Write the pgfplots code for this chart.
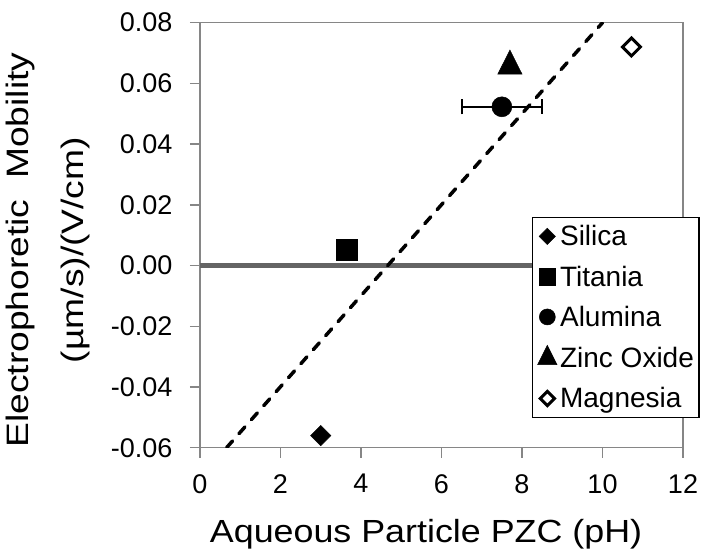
\documentclass[border=0pt]{standalone}
\usepackage{pgfplots}
\pgfplotsset{compat=1.18}
\usepackage{fontspec}
\setmainfont{Liberation Sans}
\usepackage{graphicx}
\usetikzlibrary{calc}
\definecolor{axgray}{RGB}{134,134,134}
\definecolor{zerogray}{RGB}{100,100,100}
\begin{document}
\begin{tikzpicture}
\begin{axis}[
  name=ax,
  scale only axis,
  width=483pt, height=425pt,
  xmin=0, xmax=12, ymin=-0.06, ymax=0.08,
  xtick={0,2,4,6,8,10,12},
  ytick={-0.06,-0.04,-0.02,0,0.02,0.04,0.06,0.08},
  scaled y ticks=false,
  tick align=outside,
  xtick pos=left, ytick pos=left,
  major tick length=10pt,
  axis line style={axgray, line width=1.5pt},
  tick style={axgray, line width=1.5pt},
  /pgf/number format/assume math mode=true,
  ticklabel style={font=\fontsize{27}{32}\selectfont},
  yticklabel style={/pgf/number format/fixed, /pgf/number format/fixed zerofill, /pgf/number format/precision=2, xshift=-14pt},
  xticklabel style={yshift=-13pt},
  xlabel={\scalebox{1.12}[1]{Aqueous Particle PZC (pH)}},
  xlabel style={font=\fontsize{32}{38}\selectfont, at={(axis description cs:0.468,-0.224)}, anchor=base},
  ylabel={\scalebox{1.2}[1]{Electrophoretic\ \ Mobility}\\\scalebox{1.2}[1]{(µm/s)/(V/cm)}},
  ylabel style={font=\fontsize{31}{55}\selectfont, align=center, at={(axis description cs:-0.315,0.465)}, anchor=center},
  legend style={at={(axis description cs:0.687,0.5435)}, anchor=north west,
    draw=black, line width=1.5pt, fill=white,
    font=\fontsize{28}{33}\selectfont,
    inner xsep=4pt, inner ysep=7pt, row sep=16.5pt,
    nodes={inner sep=1pt}},
  legend cell align=left,
  legend image code/.code={\draw[#1, every mark/.append style={scale=0.8}] plot coordinates {(0pt,0pt)}; \path (-10pt,0pt) (11pt,0pt);},
]
\addplot[zerogray, line width=5pt, forget plot] coordinates {(0,0) (12,0)};
\addplot[black, line width=3.5pt, line cap=round, dash pattern=on 9pt off 9.7pt, forget plot] coordinates {(0.66,-0.06) (10.0,0.08)};
\addplot[only marks, mark=square*, mark size=7.2pt, mark options={rotate=45, fill=black, draw=black, line width=0.5pt}] coordinates {(3.0,-0.056)};
\addlegendentry{Silica}
\addplot[only marks, mark=square*, mark size=10.5pt, mark options={fill=black, draw=black, line width=0.5pt}] coordinates {(3.64,0.0051)};
\addlegendentry{Titania}
\addplot[only marks, mark=*, mark size=10pt, mark options={fill=black, draw=black, line width=0.5pt},
  error bars/.cd, x dir=both, x explicit,
  error bar style={black, line width=2pt},
  error mark options={rotate=90, mark size=7.5pt, line width=2pt, black}] coordinates {(7.5,0.0523) +- (1,0)};
\addlegendentry{Alumina}
\addplot[only marks, mark=triangle*, mark size=14pt, mark options={yscale=1.15, fill=black, draw=black, line width=0.5pt}] coordinates {(7.70,0.0657)};
\addlegendentry{Zinc Oxide}
\addplot[only marks, mark=square*, mark size=6.3pt, mark options={rotate=45, fill=white, draw=black, line width=3pt}] coordinates {(10.72,0.072)};
\addlegendentry{Magnesia}
\end{axis}
\pgfresetboundingbox
\path[use as bounding box] ($(ax.south west)+(-200pt,-104.3pt)$) rectangle ($(ax.north east)+(25pt,22.7pt)$);
\end{tikzpicture}
\end{document}
